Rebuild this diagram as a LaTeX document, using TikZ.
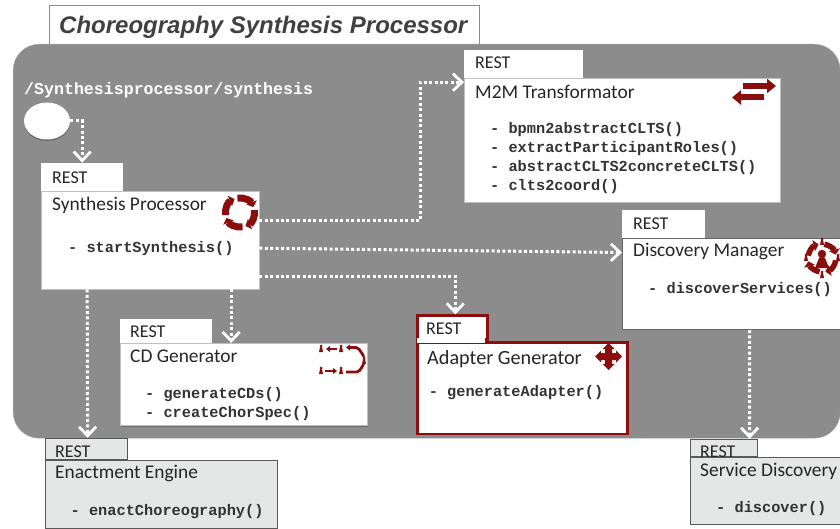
\documentclass[tikz,border=0pt]{standalone}
\usepackage{fontspec}
\setmainfont{Carlito}
\setmonofont{Liberation Mono}
\newfontfamily\titlefont{Liberation Sans}
\usetikzlibrary{arrows.meta,shadows,shapes.geometric}
\definecolor{panelgray}{HTML}{8C8C8C}
\definecolor{boxgray}{HTML}{E4E7E5}
\definecolor{iconred}{HTML}{8B0E0E}
\tikzset{
  bodybox/.style={draw=#1, fill=white, anchor=north west, inner sep=0pt},
  bodybox/.default=black!25,
  resttext/.style={anchor=west, yshift=-1pt, font=\fontsize{18}{20}\selectfont, text=black!85, inner sep=0pt},
  headtext/.style={anchor=west, yshift=-1.5pt, font=\fontsize{19.4}{22}\selectfont, text=black!85, inner sep=0pt},
  methodtext/.style={anchor=west, yshift=-1pt, font=\ttfamily\bfseries\fontsize{15.3}{17}\selectfont, text=black!80, inner sep=0pt},
  flow/.style={draw=white, line width=3pt, dash pattern=on 3pt off 2.4pt, -{Straight Barb[length=9pt,width=17pt,line width=2.8pt]}},
  ringarc/.style={draw=iconred, line width=#1, -{Triangle[length=5pt,width=11pt]}},
}
\newcommand{\tinyman}[1]{\fill[iconred] (#1) ++(0,-3) circle (1.5) (#1) ++(-1,-2) -- ++(2,0) -- ++(1,5) -- ++(-4,0) -- cycle;}
\begin{document}
\begin{tikzpicture}[x=1pt, y=-1pt]
    \useasboundingbox (0,0) rectangle (840,529);

    \node[draw=black!45, line width=1.2pt, fill=white, anchor=north west, minimum width=430pt, minimum height=39pt] (titlebox) at (49,5) {};
    \node[anchor=west, inner sep=0pt, text=black!75, font=\titlefont\bfseries\itshape\fontsize{24}{28}\selectfont] (title) at (59,27) {Choreography Synthesis Processor};
    \node[fill=panelgray, draw=black!35, anchor=north west, rounded corners=26pt, minimum width=827pt, minimum height=394pt] (panel) at (13,44) {};

    \node[anchor=west, inner sep=0pt, text=white, font=\ttfamily\bfseries\fontsize{16.6}{18}\selectfont] (path) at (24,90) {/Synthesisprocessor/synthesis};
    \node[ellipse, minimum width=46pt, minimum height=37pt, fill=white, inner sep=0pt, drop shadow={shadow xshift=0pt, shadow yshift=-1.5pt, fill=black!70}] (start) at (47,121) {};

    % synthesis processor
    \node[bodybox, minimum width=218pt, minimum height=98pt] (synth) at (41,191) {};
    \node[bodybox, anchor=south west, draw=none, minimum width=82pt, minimum height=28pt] (synthtab) at (synth.north west) {};
    \node[resttext] (synthrest) at (52,177) {REST};
    \node[headtext] (synthhead) at (52,204) {Synthesis Processor};
    \node[methodtext] (synthm) at (68,248) {- startSynthesis()};
    \foreach \a in {-10,80,170,260}
      \draw[ringarc=7pt] ([shift=(\a:14.5)]240,212.5) arc (\a:\a+78:14.5);

    % m2m transformator
    \node[bodybox, minimum width=316pt, minimum height=124pt, drop shadow={shadow xshift=1pt, shadow yshift=-1pt, fill=black!50}] (m2m) at (464,78) {};
    \node[bodybox, anchor=south west, draw=none, minimum width=119pt, minimum height=28pt] (m2mtab) at (m2m.north west) {};
    \node[resttext] (m2mrest) at (475,62) {REST};
    \node[headtext] (m2mhead) at (475,90) {M2M Transformator};
    \node[methodtext] (m2mm) at (490,129) {- bpmn2abstractCLTS()};
    \node[methodtext] (m2mn) at (490,148) {- extractParticipantRoles()};
    \node[methodtext] (m2mo) at (490,167) {- abstractCLTS2concreteCLTS()};
    \node[methodtext] (m2mp) at (490,186) {- clts2coord()};
    \draw[iconred, line width=6pt, -{Triangle[length=9pt,width=14pt]}] (743,86) -- (776,86);
    \draw[iconred, line width=6pt, -{Triangle[length=9pt,width=14pt]}] (764,97.5) -- (732,97.5);

    % discovery manager
    \node[bodybox=black!60, line width=1pt, minimum width=240pt, minimum height=91pt] (disc) at (622,238) {};
    \node[bodybox, anchor=south west, draw=none, minimum width=83pt, minimum height=28pt] (disctab) at ([yshift=-.5pt]disc.north west) {};
    \node[resttext] (discrest) at (633,223) {REST};
    \node[headtext] (dischead) at (633,250) {Discovery Manager};
    \node[methodtext] (discm) at (648,289) {- discoverServices()};
    \foreach \a in {10,100,190,280}
      \draw[ringarc=5.5pt] ([shift=(\a:14)]822,258) arc (\a:\a+66:14);
    \tinyman{822,242}
    \tinyman{806,258}
    \tinyman{838,258}
    \tinyman{822,275}
    \fill[iconred] (822,254) circle (4.2) (819,258) -- (825,258) -- (829,268) -- (815,268) -- cycle;

    % cd generator
    \node[bodybox, minimum width=247pt, minimum height=82pt, drop shadow={shadow xshift=1pt, shadow yshift=-1.5pt, fill=black!70}] (cdgen) at (120,343) {};
    \node[bodybox, anchor=south west, draw=none, minimum width=92pt, minimum height=24pt] (cdgentab) at (cdgen.north west) {};
    \node[resttext] (cdgenrest) at (130,331) {REST};
    \node[headtext] (cdgenhead) at (130,355) {CD Generator};
    \node[methodtext] (cdgenm) at (145,394) {- generateCDs()};
    \node[methodtext] (cdgenn) at (145,413) {- createChorSpec()};
    \tinyman{321,349}
    \tinyman{341,349}
    \tinyman{364,361}
    \tinyman{321,371}
    \tinyman{341,371}
    \draw[iconred, line width=2.5pt, -{Triangle[length=4pt,width=6pt]}] (337,349) -- (326,349);
    \draw[iconred, line width=2.5pt, -{Triangle[length=4pt,width=6pt]}] (325,371) -- (337,371);
    \draw[iconred, line width=2.8pt, -{Triangle[length=4pt,width=6pt]}] (364,355) to[out=-90,in=0] (356,347.5) -- (346,347.5);
    \draw[iconred, line width=2.8pt] (346,372) -- (357,372) to[out=0,in=90] (364,365);

    % adapter generator
    \node[bodybox=iconred, line width=2.6pt, minimum width=210pt, minimum height=91.5pt] (adapt) at (416,341) {};
    \node[bodybox=iconred, line width=2.6pt, anchor=south west, minimum width=70pt, minimum height=24pt] (adapttab) at (adapt.north west) {};
    \fill[white] (417.3,338) rectangle (484.7,343);
    \node[resttext] (adaptrest) at (426,328) {REST};
    \node[headtext, font=\fontsize{20.2}{22}\selectfont] (adapthead) at (427,358) {Adapter Generator};
    \node[methodtext] (adaptm) at (428.6,392) {- generateAdapter()};
    \foreach \a in {0,90,180,270}
      \fill[iconred, rotate around={\a:(608.5,356.5)}] (608.5,353) -- (616,353) -- (616,350.5) -- (622,356.5) -- (616,362.5) -- (616,360) -- (608.5,360) -- cycle;

    % enactment engine
    \node[bodybox=black!65, line width=1.2pt, fill=boxgray, minimum width=232pt, minimum height=68pt] (enact) at (45,460) {};
    \node[bodybox=black!65, line width=1.2pt, fill=boxgray, anchor=south west, minimum width=82pt, minimum height=21pt] (enacttab) at (enact.north west) {};
    \node[resttext] (enactrest) at (55,451) {REST};
    \node[headtext] (enacthead) at (55,472) {Enactment Engine};
    \node[methodtext] (enactm) at (70.5,511) {- enactChoreography()};

    % service discovery
    \node[bodybox=black!65, line width=1.2pt, fill=boxgray, minimum width=160pt, minimum height=67pt] (serv) at (690,457) {};
    \node[bodybox=black!65, line width=1.2pt, fill=boxgray, anchor=south west, minimum width=67pt, minimum height=17pt] (servtab) at (serv.north west) {};
    \node[resttext] (servrest) at (700,451) {REST};
    \node[headtext] (servhead) at (700,470) {Service Discovery};
    \node[methodtext] (servm) at (716,508) {- discover()};

    % connectors
    \draw[flow] (start.east) -| (synthtab.north);
    \draw[flow] ([yshift=20pt]synth.east) -- ++(161,0) |- ([yshift=58pt]m2m.west);
    \draw[flow] ([yshift=-8pt]synth.east) -- ([yshift=31.5pt]disc.west);
    \draw[flow] ([yshift=-36pt]synth.east) -| ([xshift=3pt]adapttab.north);
    \draw[flow] ([xshift=81pt]synth.south) -- ([xshift=-12.5pt]cdgen.north);
    \draw[flow] ([xshift=-63pt]synth.south) -- ([xshift=1pt]enacttab.north);
    \draw[flow] ([xshift=7pt]disc.south) -- ([xshift=25.5pt]servtab.north);
\end{tikzpicture}
\end{document}
